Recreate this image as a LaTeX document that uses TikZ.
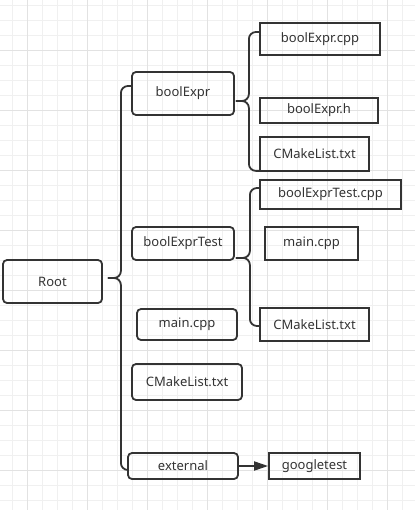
\documentclass[tikz,border=0pt]{standalone}
\usepackage{fontspec}
\setmainfont{Noto Sans}
\usetikzlibrary{arrows.meta}
\definecolor{ink}{HTML}{333333}
\definecolor{gridminor}{HTML}{F0F0F0}
\definecolor{gridmajor}{HTML}{E2E2E2}
\tikzset{dir node/.style={draw=ink,text=ink,line width=1.8pt,rounded corners=4pt,inner sep=0pt,font=\fontsize{13}{15}\selectfont},
	file node/.style={dir node,rounded corners=0pt},
	brace/.style={draw=ink,line width=1.8pt,rounded corners=7pt},
}

\begin{document}
\begin{tikzpicture}[x=1pt,y=-1pt]
	\useasboundingbox (0,0) rectangle (415,510);
	% grid
	\foreach \gx in {0,...,26} \draw[gridminor,line width=0.8pt] (12.7+15*\gx,0) -- (12.7+15*\gx,510);
	\foreach \gy in {0,...,33} \draw[gridminor,line width=0.8pt] (0,5+15*\gy) -- (415,5+15*\gy);
	\foreach \gx in {0,...,6} \draw[gridmajor,line width=0.8pt] (27.7+60*\gx,0) -- (27.7+60*\gx,510);
	\foreach \gy in {0,...,7} \draw[gridmajor,line width=0.8pt] (0,50+60*\gy) -- (415,50+60*\gy);
	
	\node[dir node,minimum width=99pt,minimum height=43pt] (root) at (52.5,281.5) {Root};
	\node[dir node,minimum width=102pt,minimum height=43pt] (boolexpr) at (183,93.5) {boolExpr};
	\node[dir node,minimum width=102pt,minimum height=33pt] (boolexprtest) at (183,243.5) {boolExprTest};
	\node[dir node,minimum width=100pt,minimum height=31pt] (maincpp) at (187,324.5) {main.cpp};
	\node[dir node,minimum width=110pt,minimum height=36pt] (cmake) at (187,382) {CMakeList.txt};
	\node[dir node,minimum width=110pt,minimum height=26pt] (external) at (183,466) {external};
	
	\node[file node,minimum width=120pt,minimum height=32pt] (exprcpp) at (320,39) {boolExpr.cpp};
	\node[file node,minimum width=118pt,minimum height=25pt] (exprh) at (319,110.5) {boolExpr.h};
	\node[file node,minimum width=109pt,minimum height=34pt] (exprcmake) at (314.5,154) {CMakeList.txt};
	\node[file node,minimum width=141pt,minimum height=29pt] (testcpp) at (330.5,194.5) {boolExprTest.cpp};
	\node[file node,minimum width=93pt,minimum height=33pt] (testmain) at (311.5,243.5) {main.cpp};
	\node[file node,minimum width=109pt,minimum height=33pt] (testcmake) at (314.5,324.5) {CMakeList.txt};
	\node[file node,minimum width=91pt,minimum height=26pt] (googletest) at (314.5,466) {googletest};
	
	% braces
	\draw[brace] ([xshift=5pt,yshift=3.5pt]root.east) -- ++(13,0) |- ([yshift=7.5pt]boolexpr.west);
	\draw[brace] ([xshift=5pt,yshift=3.5pt]root.east) -- ++(13,0) |- ([yshift=-4pt]external.west);
	\draw[brace] ([xshift=1pt,yshift=-7.5pt]boolexpr.east) -- ++(13,0) |- ([yshift=7pt]exprcpp.west);
	\draw[brace] ([xshift=1pt,yshift=-7.5pt]boolexpr.east) -- ++(13,0) |- ([yshift=1pt]exprcmake.south west);
	\draw[brace] ([xshift=1pt,yshift=3pt]boolexprtest.south east) -- ++(14,0) |- ([yshift=6.5pt]testcpp.west);
	\draw[brace] ([xshift=1pt,yshift=3pt]boolexprtest.south east) -- ++(14,0) |- ([yshift=-1.5pt]testcmake.west);
	
	\draw[draw=ink,fill=ink,line width=1.8pt,-{Triangle[length=14pt,width=9pt]}] (external) -- (googletest);
\end{tikzpicture}
\end{document}
